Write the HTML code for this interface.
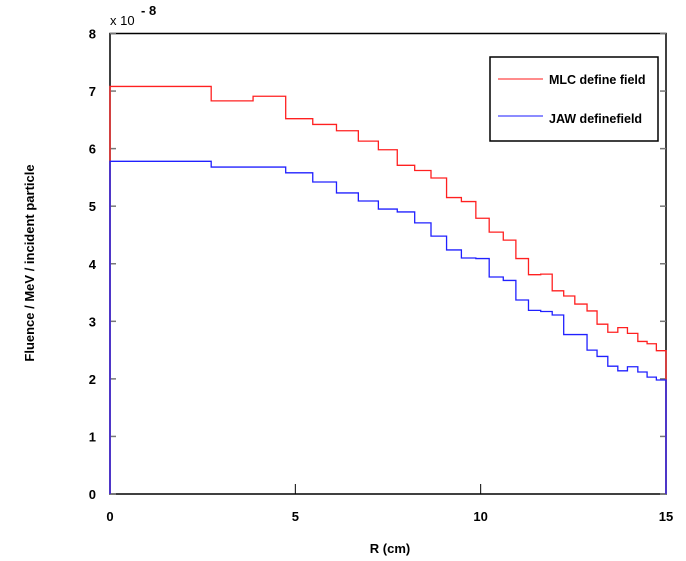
<!DOCTYPE html>
<html><head><meta charset="utf-8"><style>
body{margin:0;background:#fff;}
svg{display:block;font-family:"Liberation Sans",sans-serif;}
</style></head><body>
<svg id="chart" width="686" height="561">
<rect width="686" height="561" fill="#fff"/>
<rect x="110" y="33.5" width="556" height="460.5" fill="none" stroke="#000" stroke-width="1.5"/>
<g id="ticks"></g>
<g id="series"></g>
<text x="110" y="25" font-size="13">x 10</text>
<text x="141" y="15" font-size="13" font-weight="bold">- 8</text>
<text x="390" y="553" font-size="13" font-weight="bold" text-anchor="middle">R (cm)</text>
<text transform="translate(34,263) rotate(-90)" font-size="13" font-weight="bold" text-anchor="middle">Fluence / MeV / incident  particle</text>
<g>
<rect x="490" y="57" width="168" height="84" fill="#fff" stroke="#000" stroke-width="1.5"/>
<line x1="498" y1="79" x2="543" y2="79" stroke="#ff6666" stroke-width="1.5"/>
<text x="549" y="84" font-size="12.5" font-weight="bold">MLC define field</text>
<line x1="498" y1="116" x2="543" y2="116" stroke="#6666ff" stroke-width="1.5"/>
<text x="549" y="123" font-size="12.5" font-weight="bold">JAW definefield</text>
</g>
</svg>
<script>
const binEdges=[0,2.73,3.86,4.74,5.47,6.11,6.70,7.24,7.75,8.22,8.66,9.08,9.48,9.87,10.23,10.61,10.95,11.29,11.62,11.93,12.24,12.54,12.87,13.14,13.43,13.70,13.96,14.24,14.49,14.74,15];
const mlcValues=[7.08,6.83,6.91,6.52,6.42,6.31,6.13,5.98,5.71,5.62,5.49,5.15,5.08,4.79,4.55,4.41,4.09,3.81,3.82,3.53,3.44,3.30,3.18,2.95,2.81,2.89,2.79,2.65,2.61,2.49];
const jawValues=[5.78,5.68,5.68,5.58,5.42,5.23,5.09,4.95,4.90,4.71,4.48,4.24,4.10,4.09,3.77,3.71,3.37,3.19,3.17,3.11,2.77,2.77,2.50,2.39,2.22,2.14,2.21,2.12,2.03,1.98];
const xTicks=[0,5,10,15];
const yTicks=[0,1,2,3,4,5,6,7,8];
const NS="http://www.w3.org/2000/svg";
const X0=110,X1=666,Y0=494,Y1=33.5,XMAX=15,YMAX=8;
function sx(v){return X0+(X1-X0)*v/XMAX;}
function sy(v){return Y0-(Y0-Y1)*v/YMAX;}
const tg=document.getElementById('ticks');
xTicks.forEach(t=>{
  const l=document.createElementNS(NS,'line');
  l.setAttribute('x1',sx(t));l.setAttribute('x2',sx(t));l.setAttribute('y1',Y0);l.setAttribute('y2',Y0-10);
  l.setAttribute('stroke','#000');
  
  
  tg.appendChild(l);
  const tx=document.createElementNS(NS,'text');
  tx.setAttribute('x',sx(t));tx.setAttribute('y',Y0+27);tx.setAttribute('text-anchor','middle');
  tx.setAttribute('font-size','13');tx.setAttribute('font-weight','bold');
  tx.textContent=t;
  
  
  tg.appendChild(tx);
});
yTicks.forEach(t=>{
  [[X0,X0+6],[X1-6,X1]].forEach(p=>{
    const l=document.createElementNS(NS,'line');
    l.setAttribute('x1',p[0]);l.setAttribute('x2',p[1]);l.setAttribute('y1',sy(t));l.setAttribute('y2',sy(t));
    l.setAttribute('stroke','#777');l.setAttribute('stroke-width','1.5');
    
    
    tg.appendChild(l);
  });
  const tx=document.createElementNS(NS,'text');
  tx.setAttribute('x',96);tx.setAttribute('y',sy(t)+5);tx.setAttribute('text-anchor','end');
  tx.setAttribute('font-size','13');tx.setAttribute('font-weight','bold');
  tx.textContent=t;
  
  
  tg.appendChild(tx);
});
const sg=document.getElementById('series');
function stepPath(vals){
  let d='M'+sx(binEdges[0])+','+sy(0);
  vals.forEach((v,i)=>{d+=' L'+sx(binEdges[i])+','+sy(v)+' L'+sx(binEdges[i+1])+','+sy(v);});
  d+=' L'+sx(binEdges[binEdges.length-1])+','+sy(0);
  return d;
}
const m=document.createElementNS(NS,'path');
m.setAttribute('d',stepPath(mlcValues));m.setAttribute('fill','none');m.setAttribute('stroke','#ff2020');m.setAttribute('stroke-width','1.3');


sg.appendChild(m);
const j=document.createElementNS(NS,'path');
j.setAttribute('d',stepPath(jawValues));j.setAttribute('fill','none');j.setAttribute('stroke','#2020ff');j.setAttribute('stroke-width','1.3');


sg.appendChild(j);
</script>
</body></html>
